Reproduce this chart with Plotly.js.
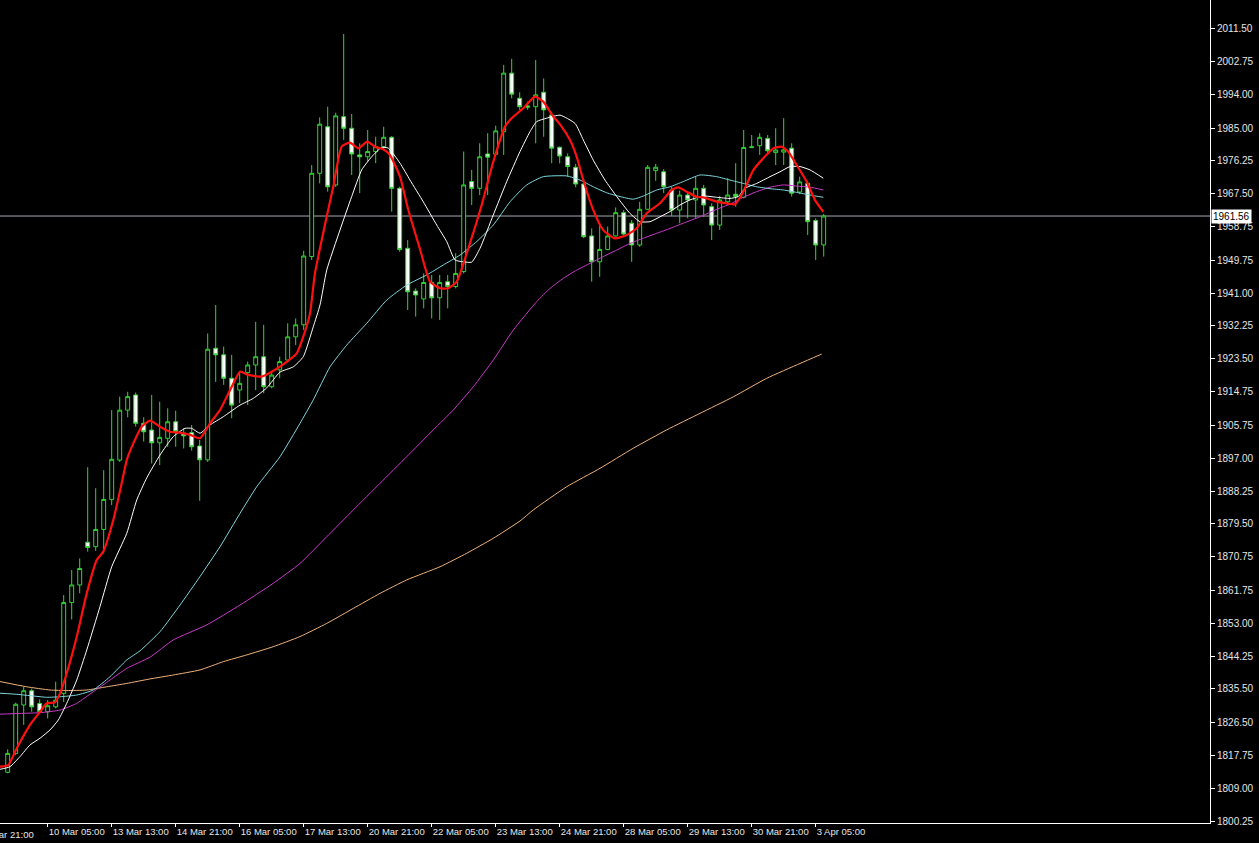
<!DOCTYPE html>
<html>
<head>
<meta charset="utf-8">
<script src="https://cdn.plot.ly/plotly-3.0.1.min.js"></script>
<style>
  html, body { margin: 0; padding: 0; background: #000; }
  #chart { width: 1259px; height: 843px; }
</style>
</head>
<body>
<div id="chart"></div>
<script>
// ---- Candle data (H4 bars, index 0 = first visible bar) ----
const opens = [
  1813.25, 1818.3, 1831.2, 1835.0, 1831.6, 1829.4, 1830.7, 1834.3, 1858.5, 1863.2,
  1874.6, 1873.4, 1878.0, 1886.0, 1896.5, 1909.8, 1913.85, 1906.3, 1904.5, 1901.1,
  1902.3, 1906.7, 1903.7, 1903.8, 1900.25, 1896.55, 1926.3, 1924.55, 1918.3, 1915.15,
  1919.8, 1921.85, 1924.05, 1916.05, 1920.55, 1923.15, 1929.35, 1932.55, 1950.75, 1972.95,
  1985.35, 1969.85, 1988.05, 1984.95, 1977.85, 1977.35, 1978.75, 1980.05, 1982.55, 1968.95,
  1952.95, 1941.55, 1939.45, 1943.85, 1939.75, 1944.05, 1942.75, 1946.75, 1970.75, 1968.95,
  1978.1, 1978.05, 1984.05, 1999.65, 1992.95, 1990.9, 1990.7, 1994.55, 1988.5, 1979.9,
  1977.35, 1974.55, 1970.1, 1956.25, 1949.35, 1952.65, 1956.25, 1962.45, 1959.65, 1953.85,
  1963.35, 1973.65, 1973.35, 1968.5, 1963.15, 1967.15, 1965.85, 1968.95, 1964.05, 1959.15,
  1965.35, 1967.35, 1966.55, 1979.8, 1980.3, 1982.25, 1978.45, 1978.6, 1979.65, 1967.95,
  1970.25, 1960.35, 1953.85
];
const highs = [
  1819.4, 1831.8, 1836.1, 1835.6, 1832.7, 1832.5, 1837.4, 1860.5, 1867.2, 1870.3,
  1894.6, 1889.0, 1893.8, 1909.8, 1913.4, 1914.7, 1914.5, 1907.9, 1913.85, 1912.05,
  1910.3, 1909.65, 1904.95, 1905.85, 1901.85, 1930.25, 1937.85, 1926.75, 1924.55, 1920.05,
  1922.75, 1933.35, 1932.55, 1920.05, 1924.05, 1932.95, 1934.25, 1952.3, 1975.15, 1987.85,
  1990.7, 1989.1, 2010.1, 1988.75, 1980.95, 1984.5, 1982.7, 1985.35, 1982.85, 1969.35,
  1955.15, 1942.25, 1946.25, 1945.85, 1945.85, 1945.85, 1951.65, 1978.75, 1973.85, 1980.95,
  1983.65, 1985.65, 2001.85, 2003.45, 1994.55, 1992.05, 2003.15, 1998.25, 1989.35, 1980.05,
  1978.25, 1975.45, 1971.65, 1958.25, 1959.65, 1958.75, 1963.85, 1963.15, 1960.5, 1965.35,
  1975.15, 1975.45, 1974.05, 1969.35, 1968.35, 1968.05, 1972.05, 1969.85, 1964.95, 1966.9,
  1971.65, 1975.65, 1984.5, 1983.15, 1983.65, 1983.15, 1984.95, 1987.65, 1980.95, 1972.05,
  1970.75, 1960.95, 1962.1
];
const lows = [
  1813.0, 1817.9, 1825.9, 1829.4, 1829.0, 1827.6, 1830.3, 1832.0, 1854.0, 1861.0,
  1872.1, 1872.3, 1871.6, 1884.5, 1896.0, 1907.9, 1905.4, 1901.4, 1895.6, 1895.15,
  1900.05, 1900.05, 1899.6, 1899.0, 1885.65, 1896.0, 1917.35, 1916.55, 1907.65, 1911.65,
  1911.15, 1915.15, 1914.3, 1915.65, 1918.3, 1922.75, 1927.15, 1931.15, 1949.85, 1970.25,
  1968.05, 1969.35, 1981.85, 1972.5, 1967.65, 1976.05, 1975.65, 1979.15, 1962.75, 1952.05,
  1936.5, 1934.75, 1936.95, 1934.25, 1933.85, 1936.95, 1942.25, 1946.25, 1964.5, 1967.15,
  1967.15, 1977.85, 1977.85, 1992.95, 1989.85, 1989.85, 1980.95, 1982.7, 1975.65, 1975.6,
  1972.05, 1969.25, 1955.65, 1944.05, 1945.35, 1952.45, 1956.05, 1956.05, 1949.35, 1953.35,
  1963.15, 1970.95, 1967.65, 1961.55, 1959.65, 1960.95, 1960.95, 1961.35, 1955.15, 1957.85,
  1964.5, 1964.05, 1966.3, 1979.65, 1977.85, 1978.25, 1975.15, 1975.15, 1966.75, 1967.4,
  1956.5, 1949.85, 1950.75
];
const closes = [
  1818.3, 1831.4, 1835.0, 1830.7, 1829.4, 1831.0, 1832.5, 1858.5, 1863.2, 1867.6,
  1873.2, 1878.0, 1886.0, 1896.7, 1909.8, 1913.4, 1906.3, 1904.05, 1901.1, 1902.55,
  1906.7, 1904.05, 1902.95, 1900.05, 1896.55, 1926.05, 1924.55, 1918.3, 1911.15, 1916.95,
  1921.85, 1924.05, 1916.05, 1919.15, 1922.75, 1929.35, 1932.55, 1950.9, 1972.95, 1986.05,
  1969.35, 1988.25, 1984.95, 1978.1, 1977.35, 1978.75, 1980.05, 1982.55, 1968.95, 1952.65,
  1941.35, 1940.5, 1943.85, 1939.75, 1943.85, 1942.75, 1946.25, 1969.85, 1968.95, 1977.35,
  1977.25, 1984.25, 1999.65, 1994.05, 1990.7, 1990.6, 1993.85, 1989.85, 1979.65, 1977.55,
  1974.75, 1970.1, 1956.05, 1949.35, 1952.65, 1956.25, 1962.45, 1956.75, 1953.85, 1963.35,
  1974.55, 1974.55, 1969.35, 1963.15, 1967.15, 1965.85, 1968.95, 1964.5, 1959.15, 1965.85,
  1967.15, 1966.75, 1979.85, 1980.0, 1982.55, 1978.95, 1979.15, 1979.2, 1967.65, 1970.65,
  1960.05, 1953.85, 1961.56
];
const barIndex = opens.map((_, i) => i);

// ---- Moving averages (bar position, price) ----
const maRedX = [-0.96,0.08,1.13,2.79,4.04,4.88,5.91,6.54,7.38,8.63,9.88,11.13,11.95,13.2,14.25,14.88,15.7,16.75,17.79,19.04,20.29,21.54,22.79,24.04,25.29,26.54,27.79,29.04,30.08,31.75,33.0,34.88,36.13,36.95,37.79,38.41,39.88,40.7,41.75,42.79,43.83,44.95,45.91,46.95,47.79,49.04,50.08,51.54,52.79,54.04,55.08,56.13,57.58,59.25,60.7,62.16,63.0,64.45,65.91,66.95,68.2,69.04,70.29,71.13,71.95,73.2,74.45,75.91,77.38,78.63,79.88,81.54,83.0,83.83,84.88,86.13,86.95,88.63,89.88,90.91,91.95,93.2,94.45,95.7,96.75,97.58,98.63,99.88,100.91,101.95];
const maRedY = [1814.75,1815.2,1819.65,1825.9,1829.4,1831.65,1831.9,1834.3,1839.65,1849.4,1860.95,1869.85,1872.1,1880.5,1890.3,1896.5,1900.95,1905.4,1907.0,1905.4,1904.05,1903.8,1903.2,1902.3,1906.3,1909.85,1915.1,1920.05,1919.2,1918.75,1920.05,1922.7,1924.95,1929.4,1935.6,1946.3,1961.4,1969.4,1980.05,1981.1,1979.6,1981.4,1980.05,1979.35,1977.8,1972.05,1963.15,1952.7,1944.05,1942.3,1942.3,1944.05,1952.95,1964.5,1976.05,1985.4,1987.6,1990.3,1993.4,1992.05,1988.05,1986.0,1981.8,1977.35,1971.15,1963.15,1957.8,1955.6,1956.5,1958.3,1962.3,1964.95,1968.5,1969.2,1968.05,1966.7,1966.55,1965.4,1964.95,1964.7,1968.05,1973.8,1976.95,1979.6,1980.05,1978.7,1975.15,1970.7,1965.8,1962.7];

const maWhiteX = [-0.96,0.29,1.54,2.79,4.04,5.29,6.33,7.38,8.63,9.88,11.54,13.0,14.88,16.13,17.38,19.04,20.7,22.16,23.0,24.04,25.29,26.95,29.04,30.7,32.38,34.04,35.7,36.95,38.2,39.04,39.88,41.54,43.0,44.25,45.5,46.75,47.58,49.04,50.29,51.95,53.63,54.88,55.91,56.95,58.0,59.04,60.7,62.38,64.04,65.29,66.13,67.38,69.04,70.91,71.95,73.2,74.66,76.13,77.79,79.04,80.29,81.54,82.79,84.04,85.29,86.95,88.63,90.29,91.33,92.16,93.63,95.29,96.54,97.79,99.04,100.29,101.95];
const maWhiteY = [1814.05,1814.75,1817.45,1820.55,1822.35,1824.55,1827.2,1831.65,1837.85,1845.85,1857.45,1868.05,1876.95,1885.85,1891.75,1897.85,1902.75,1904.95,1904.95,1903.65,1905.85,1908.05,1911.15,1912.95,1915.75,1919.95,1921.35,1924.05,1932.05,1937.85,1947.15,1957.85,1966.75,1973.85,1977.35,1979.85,1979.65,1975.65,1971.15,1965.35,1959.15,1954.75,1949.85,1949.35,1949.25,1952.95,1961.85,1970.75,1978.75,1984.05,1986.75,1987.65,1988.45,1986.25,1981.85,1976.45,1971.15,1966.75,1962.25,1960.05,1960.05,1961.35,1962.75,1964.5,1965.85,1966.9,1966.55,1966.25,1966.75,1968.95,1970.25,1972.05,1973.35,1974.75,1974.75,1973.85,1971.65];

const maCyanX = [-0.96,1.13,3.2,4.88,6.54,8.63,10.7,12.79,14.88,16.54,19.04,21.54,24.04,26.54,29.04,31.13,34.04,36.54,38.2,40.29,42.38,44.88,47.38,49.88,52.38,54.45,56.54,58.63,60.7,62.79,64.88,66.95,69.88,71.54,73.2,74.88,76.54,78.2,79.45,81.13,82.79,84.45,86.54,88.63,90.29,91.95,93.63,95.29,96.95,98.63,100.29,101.95];
const maCyanY = [1834.35,1834.05,1833.6,1833.25,1833.4,1833.85,1835.2,1838.75,1843.2,1845.65,1850.75,1857.85,1865.45,1873.4,1882.3,1889.4,1897.4,1906.3,1912.55,1921.35,1927.15,1932.95,1939.15,1943.15,1945.85,1948.5,1951.15,1954.75,1959.15,1965.35,1969.85,1972.05,1972.25,1971.15,1969.35,1967.75,1966.75,1966.05,1966.9,1968.5,1969.35,1970.75,1972.5,1972.05,1971.15,1970.25,1969.35,1968.85,1968.5,1967.85,1967.15,1966.55];

const maMagentaX = [-0.96,1.54,4.04,6.54,8.63,10.7,12.79,14.88,17.79,20.7,24.88,29.04,33.2,36.54,39.88,43.2,46.54,49.88,53.2,55.7,58.2,60.7,63.2,66.13,67.79,69.45,71.13,72.79,74.45,76.13,77.79,79.45,81.13,82.79,84.45,86.54,88.63,90.29,91.95,93.63,95.29,96.95,98.63,100.29,101.95];
const maMagentaY = [1828.75,1828.95,1829.15,1829.85,1831.65,1834.75,1837.85,1840.95,1843.95,1848.55,1852.55,1857.85,1863.65,1868.95,1876.05,1883.2,1890.3,1897.4,1904.55,1909.85,1916.05,1923.15,1931.15,1938.75,1942.25,1944.95,1947.15,1948.95,1950.75,1952.5,1954.25,1955.65,1956.95,1958.25,1959.65,1961.35,1963.35,1964.75,1966.55,1968.05,1969.25,1969.85,1969.55,1969.25,1968.5];

const maOrangeX = [-0.96,2.38,5.29,7.38,9.88,12.38,14.88,17.79,20.7,24.04,26.95,29.88,33.2,36.54,39.88,43.2,46.54,49.88,54.04,57.38,60.7,64.04,65.7,69.88,74.04,78.2,82.38,86.54,90.7,94.88,99.04,101.75];
const maOrangeY = [1837.45,1836.05,1835.2,1835.05,1835.2,1836.05,1836.95,1838.15,1839.2,1840.55,1842.75,1844.55,1846.75,1849.45,1852.95,1856.95,1860.95,1864.55,1868.05,1871.65,1875.65,1880.25,1883.2,1889.4,1894.3,1899.65,1904.55,1908.95,1913.35,1918.3,1922.25,1924.75];

// ---- Axis labels ----
const timeTickBars = [5, 13, 21, 29, 37, 45, 53, 61, 69, 77, 85, 93, 101];
const timeTickLabels = ['10 Mar 05:00','13 Mar 13:00','14 Mar 21:00','16 Mar 05:00','17 Mar 13:00','20 Mar 21:00','22 Mar 05:00','23 Mar 13:00','24 Mar 21:00','28 Mar 05:00','29 Mar 13:00','30 Mar 21:00','3 Apr 05:00'];
const firstTimeLabelBar = -3;
const firstTimeLabel = '8 Mar 21:00';
const priceTickLabels = ['2011.50','2002.75','1994.00','1985.00','1976.25','1967.50','1958.75','1949.75','1941.00','1932.25','1923.50','1914.75','1905.75','1897.00','1888.25','1879.50','1870.75','1861.75','1853.00','1844.25','1835.50','1826.50','1817.75','1809.00','1800.25'];
const currentPrice = 1961.56;

const xRange = [-0.9625, 150.29];
const GREEN = '#36d336';
const axisFont = { family: 'Liberation Sans, Arial, sans-serif', size: 10, color: '#e6e6e6' };
const timeFont = { family: 'Liberation Sans, Arial, sans-serif', size: 9.5, color: '#e6e6e6' };

function maTrace(x, y, color, width) {
  return { type: 'scatter', mode: 'lines', x: x, y: y, hoverinfo: 'skip',
           line: { color: color, width: width, shape: 'spline', smoothing: 0.5 } };
}

const traces = [
  {
    type: 'candlestick', x: barIndex, open: opens, high: highs, low: lows, close: closes,
    hoverinfo: 'skip', whiskerwidth: 0,
    increasing: { line: { color: GREEN, width: 1 }, fillcolor: '#000000' },
    decreasing: { line: { color: GREEN, width: 1 }, fillcolor: '#ffffff' }
  },
  maTrace(maOrangeX, maOrangeY, '#f0b27a', 1),
  maTrace(maMagentaX, maMagentaY, '#cc3acc', 1),
  maTrace(maCyanX, maCyanY, '#7fd8de', 1),
  maTrace(maWhiteX, maWhiteY, '#ffffff', 1),
  maTrace(maRedX, maRedY, '#ff1010', 2.2)
];

// paper position of the leftmost (partly hidden) time label
const firstLabelPaperX = (firstTimeLabelBar - xRange[0]) / (xRange[1] - xRange[0]);

const layout = {
  width: 1259, height: 843,
  margin: { l: 0, r: 49, t: 0, b: 20, pad: 0 },
  paper_bgcolor: '#000000', plot_bgcolor: '#000000',
  showlegend: false,
  xaxis: {
    type: 'linear', range: xRange, fixedrange: true,
    rangeslider: { visible: false },
    showgrid: false, zeroline: false,
    showline: true, linecolor: '#ffffff', linewidth: 1,
    ticks: 'outside', ticklen: 3, tickcolor: '#ffffff', tickwidth: 1,
    tickmode: 'array', tickvals: timeTickBars, ticktext: timeTickLabels,
    ticklabelposition: 'outside right', tickangle: 0,
    tickfont: timeFont
  },
  yaxis: {
    side: 'right', range: [1799.74, 2019.15], fixedrange: true,
    showgrid: false, zeroline: false,
    showline: true, linecolor: '#ffffff', linewidth: 1,
    ticks: 'outside', ticklen: 4, tickcolor: '#ffffff', tickwidth: 1,
    tickmode: 'array', tickvals: priceTickLabels.map(Number), ticktext: priceTickLabels,
    tickfont: axisFont
  },
  shapes: [
    { type: 'line', xref: 'paper', x0: 0, x1: 1, yref: 'y', y0: currentPrice, y1: currentPrice,
      line: { color: '#a4a8b4', width: 1 }, layer: 'below' }
  ],
  annotations: [
    { xref: 'paper', x: 1, xanchor: 'left', xshift: 1, yref: 'y', y: currentPrice, yanchor: 'middle',
      text: currentPrice.toFixed(2), showarrow: false, bgcolor: '#ffffff', borderpad: 1,
      font: { family: axisFont.family, size: 10, color: '#000000' } },
    { xref: 'paper', x: firstLabelPaperX, xanchor: 'left', xshift: -3, yref: 'paper', y: 0, yanchor: 'top', yshift: -4,
      text: firstTimeLabel, showarrow: false, font: timeFont }
  ]
};

Plotly.newPlot('chart', traces, layout, { displayModeBar: false, staticPlot: true });
</script>
</body>
</html>
